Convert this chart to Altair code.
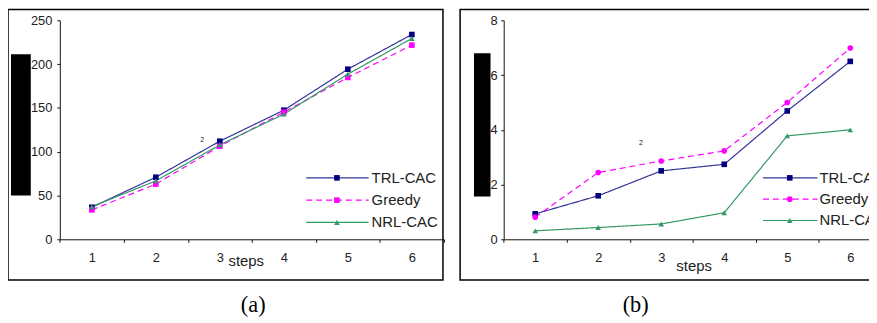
import altair as alt
import pandas as pd

# ---------------- data ----------------
steps = [1, 2, 3, 4, 5, 6]
series_names = ["TRL-CAC", "Greedy", "NRL-CAC"]

a_trl = [36.6, 70.9, 112.0, 147.4, 194.2, 233.8]
a_greedy = [33.6, 63.0, 106.3, 145.2, 184.8, 221.7]
a_nrl = [37.3, 66.7, 107.8, 142.9, 188.5, 229.3]

b_trl = [0.93, 1.59, 2.50, 2.74, 4.69, 6.50]
b_greedy = [0.81, 2.44, 2.86, 3.23, 5.00, 6.99]
b_nrl = [0.31, 0.43, 0.56, 0.97, 3.78, 4.00]

a_y_ticks = [0, 50, 100, 150, 200, 250]
b_y_ticks = [0, 2, 4, 6, 8]
x_tick_values = [0.5, 1, 1.5, 2, 2.5, 3, 3.5, 4, 4.5, 5, 5.5, 6, 6.5]
x_title = "steps"
captions = ["(a)", "(b)"]
stray_mark = "2"

line_colors = ["#333399", "#FF00FF", "#339966"]
marker_colors = ["#000080", "#FF00FF", "#339966"]
dashes = [[1, 0], [6, 4], [1, 0]]

FONT = "Liberation Sans"
H = 232


def long_df(vals_list):
    rows = []
    for name, vals in zip(series_names, vals_list):
        for s, v in zip(steps, vals):
            rows.append({"step": s, "value": v, "series": name})
    return pd.DataFrame(rows)


df_a = long_df([a_trl, a_greedy, a_nrl])
df_b = long_df([b_trl, b_greedy, b_nrl])
leg_df = pd.DataFrame({"series": series_names})
one = alt.Data(values=[{}])

stroke_enc = alt.Stroke("series:N", scale=alt.Scale(domain=series_names, range=line_colors), legend=None)
fill_enc = alt.Fill("series:N", scale=alt.Scale(domain=series_names, range=marker_colors), legend=None)
dash_enc = alt.StrokeDash("series:N", scale=alt.Scale(domain=series_names, range=dashes), legend=None)


def make_panel(df, y_dom, y_ticks, x_rng, y_off, y_lab_pad, shape_range,
               leg_x, leg_rows, title_x, title_y):
    xs = alt.Scale(domain=[0.5, 6.5], range=x_rng, nice=False, zero=False)
    ys = alt.Scale(domain=y_dom, range=[H, 11], nice=False, zero=True)
    x_axis = alt.Axis(
        orient="bottom", values=x_tick_values,
        labelExpr="datum.value % 1 === 0 ? '' + datum.value : ''",
        tickOpacity={"condition": {"test": "datum.value % 1 === 0", "value": 0}, "value": 1},
        labelOverlap=False, labelFlush=False, labelBound=False,
        labelBaseline="alphabetic", labelPadding=19.8, tickSize=3,
        labelFont=FONT, labelFontSize=13, labelColor="#222",
        domainColor="#111", tickColor="#111", grid=False,
        title=x_title, titleX=title_x, titleY=title_y, titleAlign="center",
        titleBaseline="alphabetic", titleFont=FONT, titleFontSize=15,
        titleFontWeight="normal", titleColor="#222",
    )
    y_axis = alt.Axis(
        orient="left", offset=y_off, values=y_ticks, tickSize=3,
        labelPadding=y_lab_pad, labelFont=FONT, labelFontSize=13, labelColor="#222",
        domainColor="#111", tickColor="#111", grid=False, title=None,
        labelOverlap=False,
    )
    x_enc = alt.X("step:Q", scale=xs, axis=x_axis)
    y_enc = alt.Y("value:Q", scale=ys, axis=y_axis)
    shape_enc = alt.Shape("series:N", scale=alt.Scale(domain=series_names, range=shape_range), legend=None)

    lines = alt.Chart(df).mark_line(strokeWidth=1.2).encode(
        x=x_enc, y=y_enc, stroke=stroke_enc, strokeDash=dash_enc, detail="series:N")
    points = alt.Chart(df).mark_point(filled=True, size=32, opacity=1).encode(
        x=x_enc, y=y_enc, fill=fill_enc, shape=shape_enc)
    data_layer = alt.layer(lines, points)

    ly = alt.Y("series:N", scale=alt.Scale(type="point", domain=series_names, range=leg_rows, padding=0), axis=None)
    leg_rule = alt.Chart(leg_df).mark_rule(strokeWidth=1.2).encode(
        x=alt.value(leg_x[0]), x2=alt.value(leg_x[1]), y=ly, stroke=stroke_enc, strokeDash=dash_enc)
    leg_pt = alt.Chart(leg_df).mark_point(filled=True, size=32, opacity=1).encode(
        x=alt.value(leg_x[2]), y=ly, fill=fill_enc, shape=shape_enc)
    leg_txt = alt.Chart(leg_df).mark_text(align="left", baseline="middle", font=FONT,
                                          fontSize=15, color="#222").encode(
        x=alt.value(leg_x[3]), y=ly, text="series:N")
    legend_layer = alt.layer(leg_rule, leg_pt, leg_txt)
    return alt.layer(data_layer, legend_layer).resolve_scale(y="independent")


panel_a = make_panel(df_a, [0, 250], a_y_ticks, [52.3, 439.9], -52.3, 5,
                     ["square", "square", "triangle-up"],
                     [301, 364, 332, 367], [170, 215], 240, 26.5)
panel_b = make_panel(df_b, [0, 8], b_y_ticks, [500.3, 881.9], -500.3, 3.6,
                     ["square", "circle", "triangle-up"],
                     [762, 817, 789, 819], [170, 213], 692, 31)

# ---------------- decorations ----------------
frame_a = alt.Chart(one).mark_rect(fillOpacity=0, stroke="#000", strokeWidth=1.5).encode(
    x=alt.value(0), x2=alt.value(439), y=alt.value(0), y2=alt.value(273))
frame_b = alt.Chart(one).mark_rect(fillOpacity=0, stroke="#000", strokeWidth=1.5).encode(
    x=alt.value(456.3), x2=alt.value(900), y=alt.value(0), y2=alt.value(273))
box_a = alt.Chart(one).mark_rect(color="#000").encode(
    x=alt.value(3), x2=alt.value(23), y=alt.value(45.3), y2=alt.value(187.7))
box_b = alt.Chart(one).mark_rect(color="#000").encode(
    x=alt.value(470.3), x2=alt.value(487), y=alt.value(44.3), y2=alt.value(188.7))
cap_a = alt.Chart(one).mark_text(font="Liberation Serif", fontSize=22.5, color="#000",
                                 align="center", baseline="alphabetic").encode(
    x=alt.value(247.5), y=alt.value(305.5), text=alt.value(captions[0]))
cap_b = alt.Chart(one).mark_text(font="Liberation Serif", fontSize=22.5, color="#000",
                                 align="center", baseline="alphabetic").encode(
    x=alt.value(633.5), y=alt.value(305.5), text=alt.value(captions[1]))
two_a = alt.Chart(one).mark_text(font=FONT, fontSize=7, color="#222", align="center",
                                 baseline="middle").encode(
    x=alt.value(196), y=alt.value(132), text=alt.value(stray_mark))
two_b = alt.Chart(one).mark_text(font=FONT, fontSize=7, color="#222", align="center",
                                 baseline="middle").encode(
    x=alt.value(638.7), y=alt.value(134.7), text=alt.value(stray_mark))

chart = alt.layer(
    frame_a, frame_b, panel_a, panel_b, box_a, box_b, cap_a, cap_b, two_a, two_b
).resolve_scale(
    x="independent", y="independent", shape="independent"
).properties(
    width=869, height=H,
    padding={"left": 0, "top": 0, "right": 0, "bottom": 79},
    autosize=alt.AutoSizeParams(type="none"),
    background="white",
).configure_view(stroke=None)

chart.save("out.html", embed_options={"renderer": "svg", "actions": False})
